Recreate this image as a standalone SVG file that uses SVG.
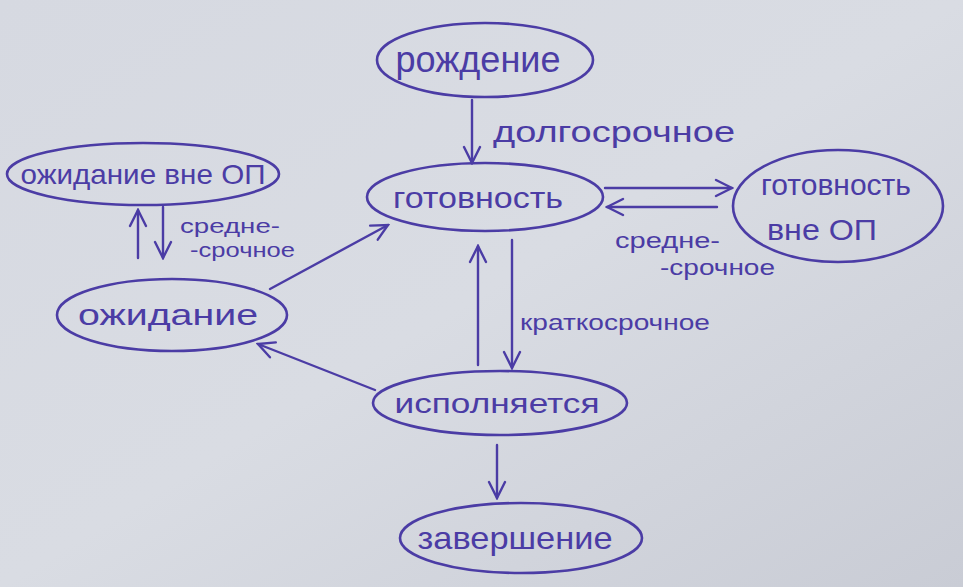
<svg xmlns="http://www.w3.org/2000/svg" width="963" height="587" viewBox="0 0 963 587">
<defs>
<linearGradient id="bg" x1="0" y1="0" x2="1" y2="1">
<stop offset="0" stop-color="#d6d9e1"/>
<stop offset="0.5" stop-color="#d9dce3"/>
<stop offset="1" stop-color="#c9ccd5"/>
</linearGradient>
<marker id="ah" viewBox="0 0 20 20" refX="18" refY="10" markerWidth="20" markerHeight="20" markerUnits="userSpaceOnUse" orient="auto">
<path d="M2,2 L18,10 L2,18" fill="none" stroke="#4b3ca5" stroke-width="2.4" stroke-linecap="round"/>
</marker>
<style>
.n{fill:none;stroke:#4b3ca5;stroke-width:2.6}
.t{fill:#4b3ca5;font-family:"Liberation Sans",Arial,sans-serif;text-anchor:middle}
.c{fill:none;stroke:#4b3ca5;stroke-width:2.4;stroke-linecap:round;marker-end:url(#ah)}
.l{fill:#4b3ca5;font-family:"Liberation Sans",Arial,sans-serif}
</style>
</defs>
<rect width="963" height="587" fill="url(#bg)"/>
<g id="rozhdenie"><ellipse class="n" cx="485" cy="60" rx="108" ry="37"/><text class="t" x="478" y="72" font-size="36" textLength="165" lengthAdjust="spacingAndGlyphs">рождение</text></g>
<g id="gotovnost"><ellipse class="n" cx="485" cy="197" rx="118" ry="34"/><text class="t" x="478" y="208" font-size="30" textLength="170" lengthAdjust="spacingAndGlyphs">готовность</text></g>
<g id="gotovnost_vne"><ellipse class="n" cx="838" cy="206" rx="105" ry="56"/><text class="t" x="836" y="195" font-size="30" textLength="150" lengthAdjust="spacingAndGlyphs">готовность</text><text class="t" x="822" y="240" font-size="30" textLength="110" lengthAdjust="spacingAndGlyphs">вне ОП</text></g>
<g id="ozhidanie_vne"><ellipse class="n" cx="143" cy="174" rx="136" ry="31"/><text class="t" x="143" y="184" font-size="28" textLength="245" lengthAdjust="spacingAndGlyphs">ожидание вне ОП</text></g>
<g id="ozhidanie"><ellipse class="n" cx="172" cy="315" rx="115" ry="36"/><text class="t" x="168" y="325" font-size="30" textLength="180" lengthAdjust="spacingAndGlyphs">ожидание</text></g>
<g id="ispolnyaetsya"><ellipse class="n" cx="500" cy="403" rx="127" ry="32"/><text class="t" x="497" y="413" font-size="28" textLength="205" lengthAdjust="spacingAndGlyphs">исполняется</text></g>
<g id="zavershenie"><ellipse class="n" cx="521" cy="538" rx="121" ry="35"/><text class="t" x="515" y="549" font-size="32" textLength="195" lengthAdjust="spacingAndGlyphs">завершение</text></g>
<g id="connectors">
<line class="c" x1="472" y1="100" x2="472" y2="163"/>
<line class="c" x1="605" y1="188" x2="732" y2="188"/>
<line class="c" x1="717" y1="207" x2="607" y2="207"/>
<line class="c" x1="138" y1="258" x2="138" y2="210"/>
<line class="c" x1="163" y1="207" x2="163" y2="258"/>
<line class="c" x1="270" y1="289" x2="388" y2="225"/>
<line class="c" x1="478" y1="365" x2="478" y2="246"/>
<line class="c" x1="512" y1="240" x2="512" y2="368"/>
<line class="c" x1="375" y1="390" x2="258" y2="344"/>
<line class="c" x1="497" y1="445" x2="497" y2="498"/>
</g>
<g id="labels">
<text class="l" x="493" y="142" font-size="30" textLength="242" lengthAdjust="spacingAndGlyphs">долгосрочное</text>
<text class="l" x="615" y="248" font-size="22" textLength="105" lengthAdjust="spacingAndGlyphs">средне-</text>
<text class="l" x="660" y="275" font-size="22" textLength="115" lengthAdjust="spacingAndGlyphs">-срочное</text>
<text class="l" x="180" y="233" font-size="20" textLength="100" lengthAdjust="spacingAndGlyphs">средне-</text>
<text class="l" x="190" y="257" font-size="20" textLength="105" lengthAdjust="spacingAndGlyphs">-срочное</text>
<text class="l" x="520" y="330" font-size="22" textLength="190" lengthAdjust="spacingAndGlyphs">краткосрочное</text>
</g>
</svg>
